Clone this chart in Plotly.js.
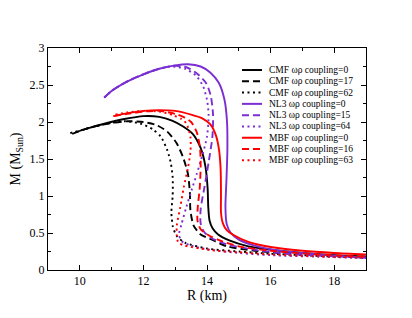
<!DOCTYPE html>
<html>
<head>
<meta charset="utf-8">
<script src="https://cdn.plot.ly/plotly-3.0.1.min.js"></script>
<style>html,body{margin:0;padding:0;background:#fff}#chart{width:412px;height:318px}</style>
</head>
<body>
<div id="chart"></div>
<script>
// ---- data (R in km, M in solar masses) ----
var names = ["CMF \u03c9\u03c1 coupling=0","CMF \u03c9\u03c1 coupling=17","CMF \u03c9\u03c1 coupling=62",
             "NL3 \u03c9\u03c1 coupling=0","NL3 \u03c9\u03c1 coupling=15","NL3 \u03c9\u03c1 coupling=64",
             "MBF \u03c9\u03c1 coupling=0","MBF \u03c9\u03c1 coupling=16","MBF \u03c9\u03c1 coupling=63"];

var cmf0_R = [9.86, 10.3, 10.8, 11.4, 12.0, 12.5, 12.9, 13.25, 13.55, 13.8, 13.95, 14.02, 14.04, 14.08, 14.18, 14.35, 14.7, 15.3, 15.9, 17.0, 18.0, 19.0];
var cmf0_M = [1.86, 1.92, 1.98, 2.04, 2.08, 2.07, 2.02, 1.94, 1.84, 1.65, 1.40, 1.10, 0.85, 0.67, 0.56, 0.48, 0.40, 0.32, 0.28, 0.23, 0.20, 0.18];

var cmf17_R = [9.76, 10.3, 10.9, 11.5, 12.0, 12.4, 12.75, 13.05, 13.25, 13.4, 13.46, 13.48, 13.58, 13.8, 14.1, 14.63, 15.5, 17.0, 19.0];
var cmf17_M = [1.84, 1.92, 1.98, 2.01, 2.00, 1.96, 1.87, 1.71, 1.52, 1.30, 1.05, 0.80, 0.60, 0.48, 0.42, 0.32, 0.26, 0.21, 0.18];

var cmf62_R = [9.70, 10.3, 10.9, 11.4, 11.9, 12.3, 12.55, 12.75, 12.86, 12.92, 12.92, 12.88, 12.93, 13.05, 13.3, 14.0, 15.0, 16.0, 17.0, 19.0];
var cmf62_M = [1.85, 1.92, 1.98, 2.01, 1.98, 1.90, 1.80, 1.62, 1.45, 1.25, 1.00, 0.78, 0.58, 0.46, 0.37, 0.29, 0.25, 0.22, 0.20, 0.165];

var nl30_R = [10.77, 11.0, 11.5, 12.0, 12.5, 13.0, 13.4, 13.8, 14.1, 14.37, 14.55, 14.63, 14.64, 14.61, 14.58, 14.62, 14.75, 15.0, 15.5, 16.3, 17.5, 19.0];
var nl30_M = [2.33, 2.42, 2.55, 2.645, 2.72, 2.765, 2.78, 2.75, 2.67, 2.53, 2.30, 2.00, 1.60, 1.20, 0.85, 0.62, 0.50, 0.41, 0.33, 0.26, 0.21, 0.165];

var nl315_R = [10.77, 11.0, 11.5, 12.0, 12.5, 12.95, 13.35, 13.7, 13.98, 14.12, 14.19, 14.17, 14.06, 13.92, 13.80, 13.80, 13.90, 14.10, 14.6, 15.4, 16.5, 17.8, 19.0];
var nl315_M = [2.33, 2.42, 2.55, 2.645, 2.72, 2.76, 2.74, 2.65, 2.52, 2.35, 2.10, 1.80, 1.48, 1.12, 0.82, 0.63, 0.52, 0.44, 0.35, 0.28, 0.22, 0.19, 0.17];

var nl364_R = [10.77, 11.0, 11.5, 12.0, 12.5, 12.9, 13.3, 13.65, 13.88, 14.0, 14.05, 14.0, 13.84, 13.68, 13.53, 13.35, 13.2, 13.12, 13.2, 13.5, 14.0, 15.0, 16.0, 17.5, 19.0];
var nl364_M = [2.33, 2.42, 2.55, 2.645, 2.72, 2.75, 2.72, 2.63, 2.48, 2.30, 2.10, 1.80, 1.53, 1.30, 1.10, 0.85, 0.62, 0.48, 0.39, 0.33, 0.28, 0.23, 0.20, 0.18, 0.16];

var mbf0_R = [11.06, 11.5, 12.0, 12.5, 13.0, 13.5, 13.85, 14.1, 14.28, 14.38, 14.43, 14.44, 14.44, 14.5, 14.62, 14.85, 15.3, 16.0, 17.0, 18.0, 19.0];
var mbf0_M = [2.08, 2.12, 2.15, 2.16, 2.15, 2.10, 2.05, 1.97, 1.82, 1.62, 1.35, 1.00, 0.78, 0.63, 0.54, 0.47, 0.38, 0.31, 0.26, 0.23, 0.21];

var mbf16_R = [11.06, 11.5, 12.0, 12.5, 13.0, 13.3, 13.5, 13.68, 13.78, 13.8, 13.77, 13.71, 13.70, 13.80, 14.05, 14.4, 15.0, 16.0, 17.5, 19.0];
var mbf16_M = [2.08, 2.11, 2.14, 2.15, 2.11, 2.06, 2.00, 1.86, 1.65, 1.40, 1.10, 0.85, 0.67, 0.55, 0.47, 0.40, 0.32, 0.26, 0.21, 0.18];

var mbf63_R = [11.12, 11.5, 12.0, 12.5, 12.95, 13.2, 13.35, 13.48, 13.48, 13.40, 13.27, 13.16, 13.05, 13.05, 13.1, 13.3, 13.8, 14.3, 15.0, 16.0, 17.5, 19.0];
var mbf63_M = [2.10, 2.13, 2.15, 2.14, 2.09, 2.04, 1.98, 1.80, 1.60, 1.38, 1.12, 0.85, 0.60, 0.47, 0.37, 0.33, 0.29, 0.26, 0.24, 0.21, 0.185, 0.165];

var xTicks = [10, 12, 14, 16, 18];
var yTicks = [0, 0.5, 1, 1.5, 2, 2.5, 3];
var yTickText = ["0", "0.5", "1", "1.5", "2", "2.5", "3"];

// ---- styles ----
var purple = "#7b2fd2";
var colors = ["#000000","#000000","#000000", purple, purple, purple, "#ff0000","#ff0000","#ff0000"];
var dashes = ["solid","7px,4px","2px,3.5px","solid","7px,4px","2px,3.5px","solid","7px,4px","2px,3.5px"];
var Rs = [cmf0_R, cmf17_R, cmf62_R, nl30_R, nl315_R, nl364_R, mbf0_R, mbf16_R, mbf63_R];
var Ms = [cmf0_M, cmf17_M, cmf62_M, nl30_M, nl315_M, nl364_M, mbf0_M, mbf16_M, mbf63_M];

var traces = [];
for (var i = 0; i < Rs.length; i++) {
  traces.push({
    x: Rs[i], y: Ms[i], type: "scatter", mode: "lines", name: names[i],
    line: {color: colors[i], width: 1.9, dash: dashes[i], shape: "spline", smoothing: 0.7},
    showlegend: false, hoverinfo: "skip"
  });
}

// manual legend (compact rows like the original)
var L = 48, W = 318, H = 222;
var shapes = [], annotations = [];
for (var j = 0; j < names.length; j++) {
  var py = 70 + j * 11.29;
  var yp = (270 - py) / H;
  shapes.push({type: "line", xref: "paper", yref: "paper",
    x0: (242 - L) / W, x1: (262 - L) / W, y0: yp, y1: yp,
    line: {color: colors[j], width: 2, dash: dashes[j]}});
  annotations.push({xref: "paper", yref: "paper", x: (267 - L) / W, y: yp,
    xanchor: "left", yanchor: "middle", showarrow: false, text: names[j],
    font: {family: "Liberation Serif", size: 9.5, color: "#000"}});
}

var axisCommon = {
  showgrid: false, zeroline: false, showline: true, linecolor: "#000", linewidth: 1,
  mirror: "allticks", ticks: "inside", ticklen: 5, tickwidth: 1, tickcolor: "#000",
  tickfont: {family: "Liberation Serif", size: 12, color: "#000"}
};

var layout = {
  width: 412, height: 318,
  margin: {l: 48, r: 46, t: 48, b: 48},
  paper_bgcolor: "#fff", plot_bgcolor: "#fff",
  showlegend: false,
  xaxis: Object.assign({}, axisCommon, {
    range: [9, 19], tickmode: "array", tickvals: xTicks,
    minor: {dtick: 1, tick0: 9, ticks: "inside", ticklen: 3, tickcolor: "#000"},
    title: {text: "R (km)", font: {family: "Liberation Serif", size: 14, color: "#000"}, standoff: 1}
  }),
  yaxis: Object.assign({}, axisCommon, {
    range: [0, 3], tickmode: "array", tickvals: yTicks, ticktext: yTickText,
    minor: {dtick: 0.25, tick0: 0, ticks: "inside", ticklen: 3, tickcolor: "#000"},
    title: {text: "M (M<sub>Sun</sub>)", font: {family: "Liberation Serif", size: 14, color: "#000"}, standoff: 5}
  }),
  shapes: shapes,
  annotations: annotations
};

Plotly.newPlot("chart", traces, layout, {staticPlot: true, displayModeBar: false});
</script>
</body>
</html>
